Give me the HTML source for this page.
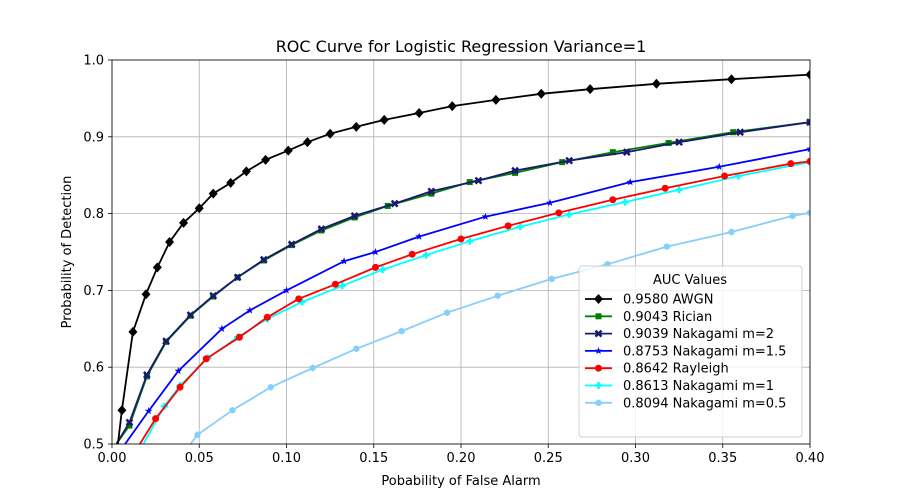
<!DOCTYPE html>
<html><head><meta charset="utf-8"><style>
body{margin:0;background:#fff;}
svg{font-family:"DejaVu Sans","Liberation Sans",sans-serif;}
</style></head><body>
<svg id="chart" width="899" height="499"></svg>
<script>
const xTicks=[0,0.05,0.10,0.15,0.20,0.25,0.30,0.35,0.40];
const xTickLabels=["0.00","0.05","0.10","0.15","0.20","0.25","0.30","0.35","0.40"];
const yTicks=[0.5,0.6,0.7,0.8,0.9,1.0];
const yTickLabels=["0.5","0.6","0.7","0.8","0.9","1.0"];
const seriesNames=["0.9580 AWGN","0.9043 Rician","0.9039 Nakagami m=2","0.8753 Nakagami m=1.5","0.8642 Rayleigh","0.8613 Nakagami m=1","0.8094 Nakagami m=0.5"];
const awgnX=[0.0034,0.0057,0.012,0.0195,0.026,0.033,0.041,0.050,0.058,0.068,0.077,0.088,0.101,0.112,0.125,0.140,0.156,0.176,0.195,0.220,0.246,0.274,0.312,0.355,0.4];
const awgnY=[0.5,0.544,0.646,0.695,0.730,0.763,0.788,0.807,0.826,0.840,0.855,0.870,0.882,0.893,0.904,0.913,0.922,0.931,0.940,0.948,0.956,0.962,0.969,0.975,0.981];
const ricianX=[0.0025,0.010,0.020,0.031,0.045,0.058,0.072,0.087,0.103,0.120,0.139,0.158,0.183,0.205,0.231,0.258,0.287,0.319,0.356,0.4];
const ricianY=[0.5,0.524,0.588,0.633,0.667,0.692,0.717,0.739,0.759,0.778,0.795,0.810,0.826,0.841,0.853,0.867,0.880,0.892,0.906,0.919];
const nak2X=[0.0025,0.010,0.020,0.031,0.045,0.058,0.072,0.087,0.103,0.120,0.139,0.162,0.183,0.210,0.231,0.262,0.295,0.325,0.360,0.4];
const nak2Y=[0.5,0.528,0.590,0.634,0.668,0.693,0.717,0.740,0.760,0.780,0.797,0.813,0.829,0.843,0.856,0.869,0.880,0.893,0.906,0.919];
const nak15X=[0.0075,0.021,0.038,0.063,0.079,0.100,0.133,0.151,0.176,0.214,0.251,0.297,0.348,0.4];
const nak15Y=[0.5,0.543,0.595,0.650,0.674,0.700,0.738,0.750,0.770,0.796,0.814,0.841,0.861,0.884];
const rayX=[0.016,0.025,0.039,0.054,0.073,0.089,0.107,0.128,0.151,0.172,0.200,0.227,0.256,0.287,0.317,0.351,0.389,0.4];
const rayY=[0.5,0.533,0.574,0.611,0.639,0.665,0.689,0.708,0.730,0.747,0.767,0.784,0.801,0.818,0.833,0.849,0.865,0.868];
const nak1X=[0.018,0.030,0.039,0.055,0.072,0.089,0.109,0.132,0.155,0.180,0.205,0.234,0.262,0.294,0.325,0.359,0.4];
const nak1Y=[0.5,0.549,0.576,0.612,0.639,0.663,0.685,0.706,0.727,0.746,0.764,0.783,0.799,0.815,0.831,0.849,0.867];
const nak05X=[0.045,0.049,0.069,0.091,0.115,0.140,0.166,0.192,0.221,0.252,0.284,0.318,0.355,0.390,0.4];
const nak05Y=[0.5,0.512,0.544,0.574,0.599,0.624,0.647,0.671,0.693,0.715,0.734,0.757,0.776,0.797,0.801];

const L=112,R=810,T=60,B=444;
const sx=v=>L+(v-0)/0.4*(R-L);
const sy=v=>B-(v-0.5)/0.5*(B-T);
const NS="http://www.w3.org/2000/svg";
const svg=document.getElementById('chart');
function mk(tag,attrs,parent){const e=document.createElementNS(NS,tag);for(const k in attrs)e.setAttribute(k,attrs[k]);(parent||svg).appendChild(e);return e;}

const defs=mk('defs',{});
const cp=mk('clipPath',{id:'clip'},defs);mk('rect',{x:L,y:T,width:R-L,height:B-T},cp);

const title=mk('text',{x:(L+R)/2,y:52,'text-anchor':'middle','font-size':16,fill:'#000'});
title.textContent="ROC Curve for Logistic Regression Variance=1";



xTicks.forEach((t,i)=>{
  const g=mk('line',{x1:sx(t),x2:sx(t),y1:T,y2:B,stroke:'#b0b0b0','stroke-width':0.8});
  
  
  mk('line',{x1:sx(t),x2:sx(t),y1:B,y2:B+4,stroke:'#000','stroke-width':0.8});
  const tx=mk('text',{x:sx(t),y:B+18,'text-anchor':'middle','font-size':13});
  tx.textContent=xTickLabels[i];
  
  
});
yTicks.forEach((t,i)=>{
  const g=mk('line',{x1:L,x2:R,y1:sy(t),y2:sy(t),stroke:'#b0b0b0','stroke-width':0.8});
  
  
  mk('line',{x1:L-4,x2:L,y1:sy(t),y2:sy(t),stroke:'#000','stroke-width':0.8});
  const tx=mk('text',{x:L-8,y:sy(t)+4.5,'text-anchor':'end','font-size':13});
  tx.textContent=yTickLabels[i];
  
  
});
const xl=mk('text',{x:(L+R)/2,y:485,'text-anchor':'middle','font-size':13});
xl.textContent="Pobability of False Alarm";


const yl=mk('text',{x:0,y:0,'text-anchor':'middle','font-size':13,transform:`translate(71,${(T+B)/2}) rotate(-90)`});
yl.textContent="Probability of Detection";



function marker(type,x,y,c,parent){
  let e;
  if(type==='D') e=mk('polygon',{points:`${x},${y-5} ${x+4.5},${y} ${x},${y+5} ${x-4.5},${y}`,fill:c},parent);
  else if(type==='s') e=mk('rect',{x:x-3,y:y-3,width:6,height:6,fill:c},parent);
  else if(type==='X') e=mk('path',{d:`M${x-3},${y-3}L${x+3},${y+3}M${x+3},${y-3}L${x-3},${y+3}`,stroke:c,'stroke-width':2.5},parent);
  else if(type==='*'){let p=[];for(let k=0;k<10;k++){const r=k%2?1.6:4,a=-Math.PI/2+k*Math.PI/5;p.push((x+r*Math.cos(a)).toFixed(1)+','+(y+r*Math.sin(a)).toFixed(1));}e=mk('polygon',{points:p.join(' '),fill:c},parent);}
  else if(type==='o') e=mk('circle',{cx:x,cy:y,r:3.5,fill:c},parent);
  else if(type==='P') e=mk('path',{d:`M${x-3.5},${y}L${x+3.5},${y}M${x},${y-3.5}L${x},${y+3.5}`,stroke:c,'stroke-width':2.5},parent);
  else e=mk('polygon',{points:(()=>{let p=[];for(let k=0;k<6;k++){const a=Math.PI/6+k*Math.PI/3;p.push((x+3.5*Math.cos(a)).toFixed(1)+','+(y+3.5*Math.sin(a)).toFixed(1));}return p.join(' ');})(),fill:c},parent);
  return e;
}
const series=[
 {xs:nak05X,ys:nak05Y,c:'#87cefa',m:'h',n:'series-nakagami-0.5'},
 {xs:nak1X,ys:nak1Y,c:'#00ffff',m:'P',n:'series-nakagami-1'},
 {xs:rayX,ys:rayY,c:'#ff0000',m:'o',n:'series-rayleigh'},
 {xs:nak15X,ys:nak15Y,c:'#0000ff',m:'*',n:'series-nakagami-1.5'},
 {xs:ricianX,ys:ricianY,c:'#008000',m:'s',n:'series-rician'},
 {xs:nak2X,ys:nak2Y,c:'#191970',m:'X',n:'series-nakagami-2'},
 {xs:awgnX,ys:awgnY,c:'#000000',m:'D',n:'series-awgn'}
];
series.forEach(s=>{
  const g=mk('g',{'clip-path':'url(#clip)'});
  
  
  const d=s.xs.map((x,i)=>(i?'L':'M')+sx(x).toFixed(1)+','+sy(s.ys[i]).toFixed(1)).join('');
  mk('path',{d:d,fill:'none',stroke:s.c,'stroke-width':1.8},g);
  s.xs.forEach((x,i)=>{if(i>0)marker(s.m,sx(x),sy(s.ys[i]),s.c,g);});
});
mk('rect',{x:L,y:T,width:R-L,height:B-T,fill:'none',stroke:'#000','stroke-width':0.8});

// legend
const lg=mk('g',{});


mk('rect',{x:579,y:266,width:223,height:171,rx:3,fill:'#fff','fill-opacity':0.8,stroke:'#d0d0d0'},lg);
const lt=mk('text',{x:690,y:284,'text-anchor':'middle','font-size':13},lg);
lt.textContent="AUC Values";
const legendOrder=[6,4,5,3,2,1,0];
legendOrder.forEach((si,k)=>{
  const s=series[si];const y=299+k*17.3;
  const e=mk('g',{},lg);
  
  
  mk('line',{x1:585,x2:612,y1:y,y2:y,stroke:s.c,'stroke-width':1.8},e);
  marker(s.m,598.5,y,s.c,e);
  const t=mk('text',{x:623,y:y+4.5,'font-size':13},e);
  t.textContent=seriesNames[k];
});
</script>
</body></html>
